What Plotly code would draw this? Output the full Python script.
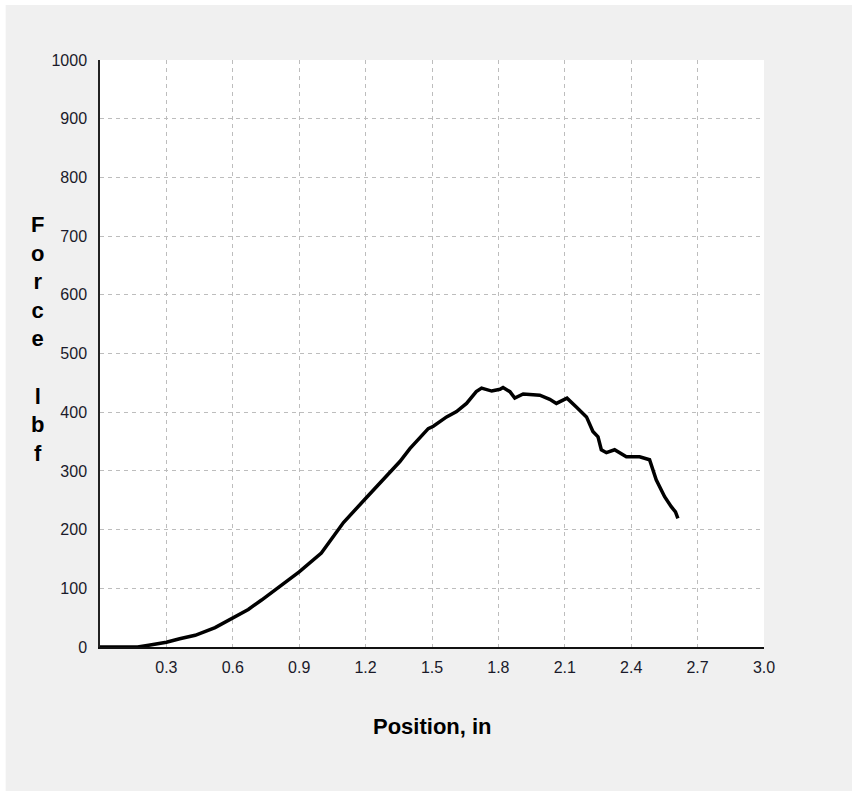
import plotly.graph_objects as go

# Data
position_in = [0.00, 0.10, 0.17, 0.22, 0.30, 0.36, 0.43, 0.52, 0.60, 0.67, 0.73, 0.81, 0.90,
               1.00, 1.05, 1.10, 1.20, 1.265, 1.355, 1.40, 1.483, 1.506, 1.566, 1.611,
               1.656, 1.70, 1.724, 1.77, 1.807, 1.821, 1.852, 1.874, 1.912, 1.987, 2.032,
               2.062, 2.11, 2.152, 2.198, 2.227, 2.25, 2.265, 2.288, 2.325, 2.378, 2.438,
               2.483, 2.513, 2.551, 2.581, 2.600, 2.611]
force_lbf = [0, 0, 0, 3, 8, 14, 20, 33, 49, 64, 80, 102, 128,
             160, 185, 212, 253, 279, 316, 338, 372, 376, 392, 401,
             415, 435, 441, 436, 439, 442, 435, 424, 431, 429, 422,
             415, 424, 409, 392, 367, 358, 336, 331, 336, 324, 324,
             319, 285, 256, 239, 230, 219]

x_tickvals = [0.3, 0.6, 0.9, 1.2, 1.5, 1.8, 2.1, 2.4, 2.7, 3.0]
x_ticktext = ["0.3", "0.6", "0.9", "1.2", "1.5", "1.8", "2.1", "2.4", "2.7", "3.0"]
y_tickvals = [0, 100, 200, 300, 400, 500, 600, 700, 800, 900, 1000]
y_ticktext = [str(v) for v in y_tickvals]

x_title = "Position, in"
y_title_letters = ["F", "o", "r", "c", "e", "", "l", "b", "f"]

FONT = "Liberation Sans, Arial, sans-serif"
TICK_COLOR = "#1a1a2a"

fig = go.Figure()
fig.add_trace(go.Scatter(
    x=position_in, y=force_lbf, mode="lines",
    line=dict(color="black", width=3.5), hoverinfo="skip", showlegend=False,
))

grid = dict(showgrid=True, gridcolor="#bdbdbd", gridwidth=1, griddash="4px,4px")

fig.update_xaxes(
    range=[0, 3], tickvals=x_tickvals, ticktext=x_ticktext,
    showline=True, linecolor="#111111", linewidth=2, zeroline=False,
    ticks="", ticklabelstandoff=5, tickfont=dict(family=FONT, size=16, color=TICK_COLOR),
    fixedrange=True, **grid,
)
fig.update_yaxes(
    range=[0, 1000], tickvals=y_tickvals, ticktext=y_ticktext,
    showline=True, linecolor="#222222", linewidth=1.5, zeroline=False,
    ticks="", ticklabelstandoff=8, tickfont=dict(family=FONT, size=16, color=TICK_COLOR),
    fixedrange=True, **grid,
)

# white strips at the left and top edges of the image
fig.add_shape(type="rect", xref="paper", yref="paper",
              x0=-0.2, x1=(5 - 99.5) / 665, y0=-0.3, y1=1.2,
              fillcolor="white", line_width=0, layer="below")
fig.add_shape(type="rect", xref="paper", yref="paper",
              x0=-0.2, x1=1.2, y0=(647 - 5) / 587, y1=1.2,
              fillcolor="white", line_width=0, layer="below")

fig.add_annotation(
    text="<b>" + "<br>".join(y_title_letters) + "</b>",
    xref="paper", yref="paper", x=(37 - 99.5) / 665, y=(647 - 339) / 587,
    xanchor="center", yanchor="middle", showarrow=False, align="center",
    font=dict(family=FONT, size=22, color="black"),
)
fig.add_annotation(
    text="<b>" + x_title + "</b>",
    xref="paper", yref="paper", x=0.5, y=(647 - 726) / 587,
    xanchor="center", yanchor="middle", showarrow=False,
    font=dict(family=FONT, size=22, color="black"),
)

fig.update_layout(
    width=852, height=791,
    margin=dict(l=99.5, r=87.5, t=60, b=144),
    paper_bgcolor="#f0f0f0", plot_bgcolor="white",
    showlegend=False,
)

fig.write_html("out.html", config={"displayModeBar": False})
